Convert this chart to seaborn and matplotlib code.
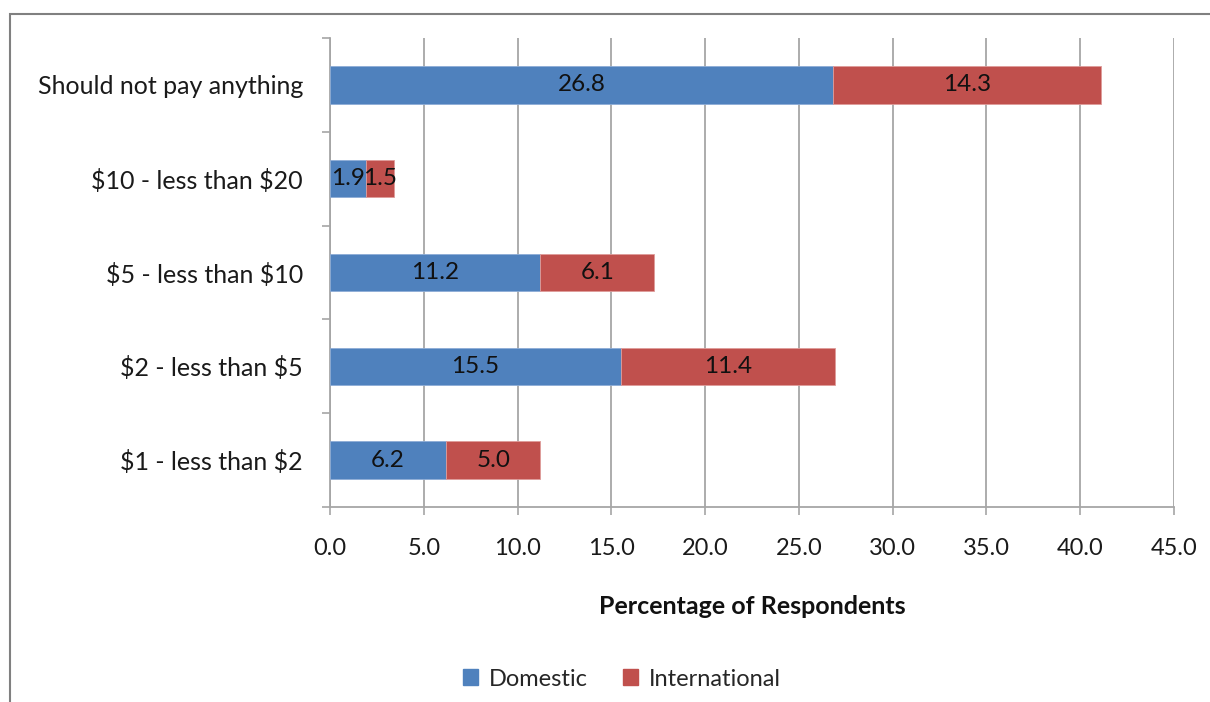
import matplotlib
matplotlib.use("Agg")
import matplotlib.pyplot as plt
from matplotlib.patches import Rectangle
from matplotlib.ticker import FixedLocator
import seaborn as sns
import pandas as pd

# Fee categories (top to bottom) and the share of respondents per group
categories = ["Should not pay anything", "$10 - less than $20", "$5 - less than $10",
              "$2 - less than $5", "$1 - less than $2"]
domestic = [26.8, 1.9, 11.2, 15.5, 6.2]
international = [14.3, 1.5, 6.1, 11.4, 5.0]
x_ticks = [0, 5, 10, 15, 20, 25, 30, 35, 40, 45]

BLUE = "#4F81BD"
RED = "#C0504D"
GRID = "#A6A6A6"

sns.set_style("white")
plt.rcParams["font.family"] = ["Lato", "DejaVu Sans"]
plt.rcParams["text.parse_math"] = False

df = pd.DataFrame({"category": categories, "Domestic": domestic,
                   "International": international})

fig = plt.figure(figsize=(12.10, 7.02), dpi=100)
ax = fig.add_axes([330 / 1210, 1 - 507 / 702, (1174 - 330) / 1210, (507 - 38) / 702])

# Domestic segment via seaborn, international stacked to its right
sns.barplot(data=df, x="Domestic", y="category", orient="h", color=BLUE,
            width=0.4, saturation=1, ax=ax, edgecolor="#8EADD6", linewidth=0.6,
            zorder=3)
dom_bars = ax.containers[0]
ypos = [b.get_y() + b.get_height() / 2 for b in dom_bars]
intl_bars = ax.barh(ypos, df["International"], left=df["Domestic"], height=0.4,
                    color=RED, edgecolor="#DE9C9A", linewidth=0.6, zorder=3)

ax.bar_label(dom_bars, labels=[f"{v:.1f}" for v in domestic], label_type="center",
             fontsize=17.5, color="#111111")
ax.bar_label(intl_bars, labels=[f"{v:.1f}" for v in international], label_type="center",
             fontsize=17.5, color="#111111")

ax.set_xlim(0, 45)
ax.set_ylim(4.5, -0.5)
ax.set_xticks(x_ticks)
ax.set_xticklabels([f"{t:.1f}" for t in x_ticks])
ax.xaxis.grid(True, color=GRID, linewidth=1.3, zorder=0)
ax.set_axisbelow(True)

# Category ticks sit on the boundaries between bars
ax.yaxis.set_minor_locator(FixedLocator([i - 0.5 for i in range(len(categories) + 1)]))
ax.tick_params(axis="y", which="major", length=0, pad=19.5, labelsize=18,
               labelcolor="#1a1a1a")
ax.tick_params(axis="y", which="minor", length=6, width=1.2, color=GRID, direction="out")
ax.tick_params(axis="x", which="major", length=6, width=1.2, color=GRID, direction="out",
               pad=16, labelsize=17, labelcolor="#1a1a1a")
ax.yaxis.set_ticks_position("left")
ax.xaxis.set_ticks_position("bottom")

for side in ["top", "right"]:
    ax.spines[side].set_visible(False)
for side in ["left", "bottom"]:
    ax.spines[side].set_color(GRID)
    ax.spines[side].set_linewidth(1.3)

ax.set_ylabel("")
ax.set_xlabel("Percentage of Respondents", fontsize=18, fontweight="bold",
              color="#111111", labelpad=26)

# Legend below the chart
handles = [Rectangle((0, 0), 1, 1, color=BLUE), Rectangle((0, 0), 1, 1, color=RED)]
fig.legend(handles, ["Domestic", "International"], loc="center",
           bbox_to_anchor=(622 / 1210, 1 - 679 / 702), ncol=2, frameon=False,
           fontsize=17, handlelength=0.65, handleheight=0.65, handletextpad=0.45,
           columnspacing=1.5)

# Chart-area border
fig.patches.append(Rectangle((10 / 1210, -0.1), 1.2, (702 - 14) / 702 + 0.1,
                             transform=fig.transFigure, fill=False,
                             edgecolor="#808080", linewidth=1.5))

fig.savefig("out.png", dpi=100)
